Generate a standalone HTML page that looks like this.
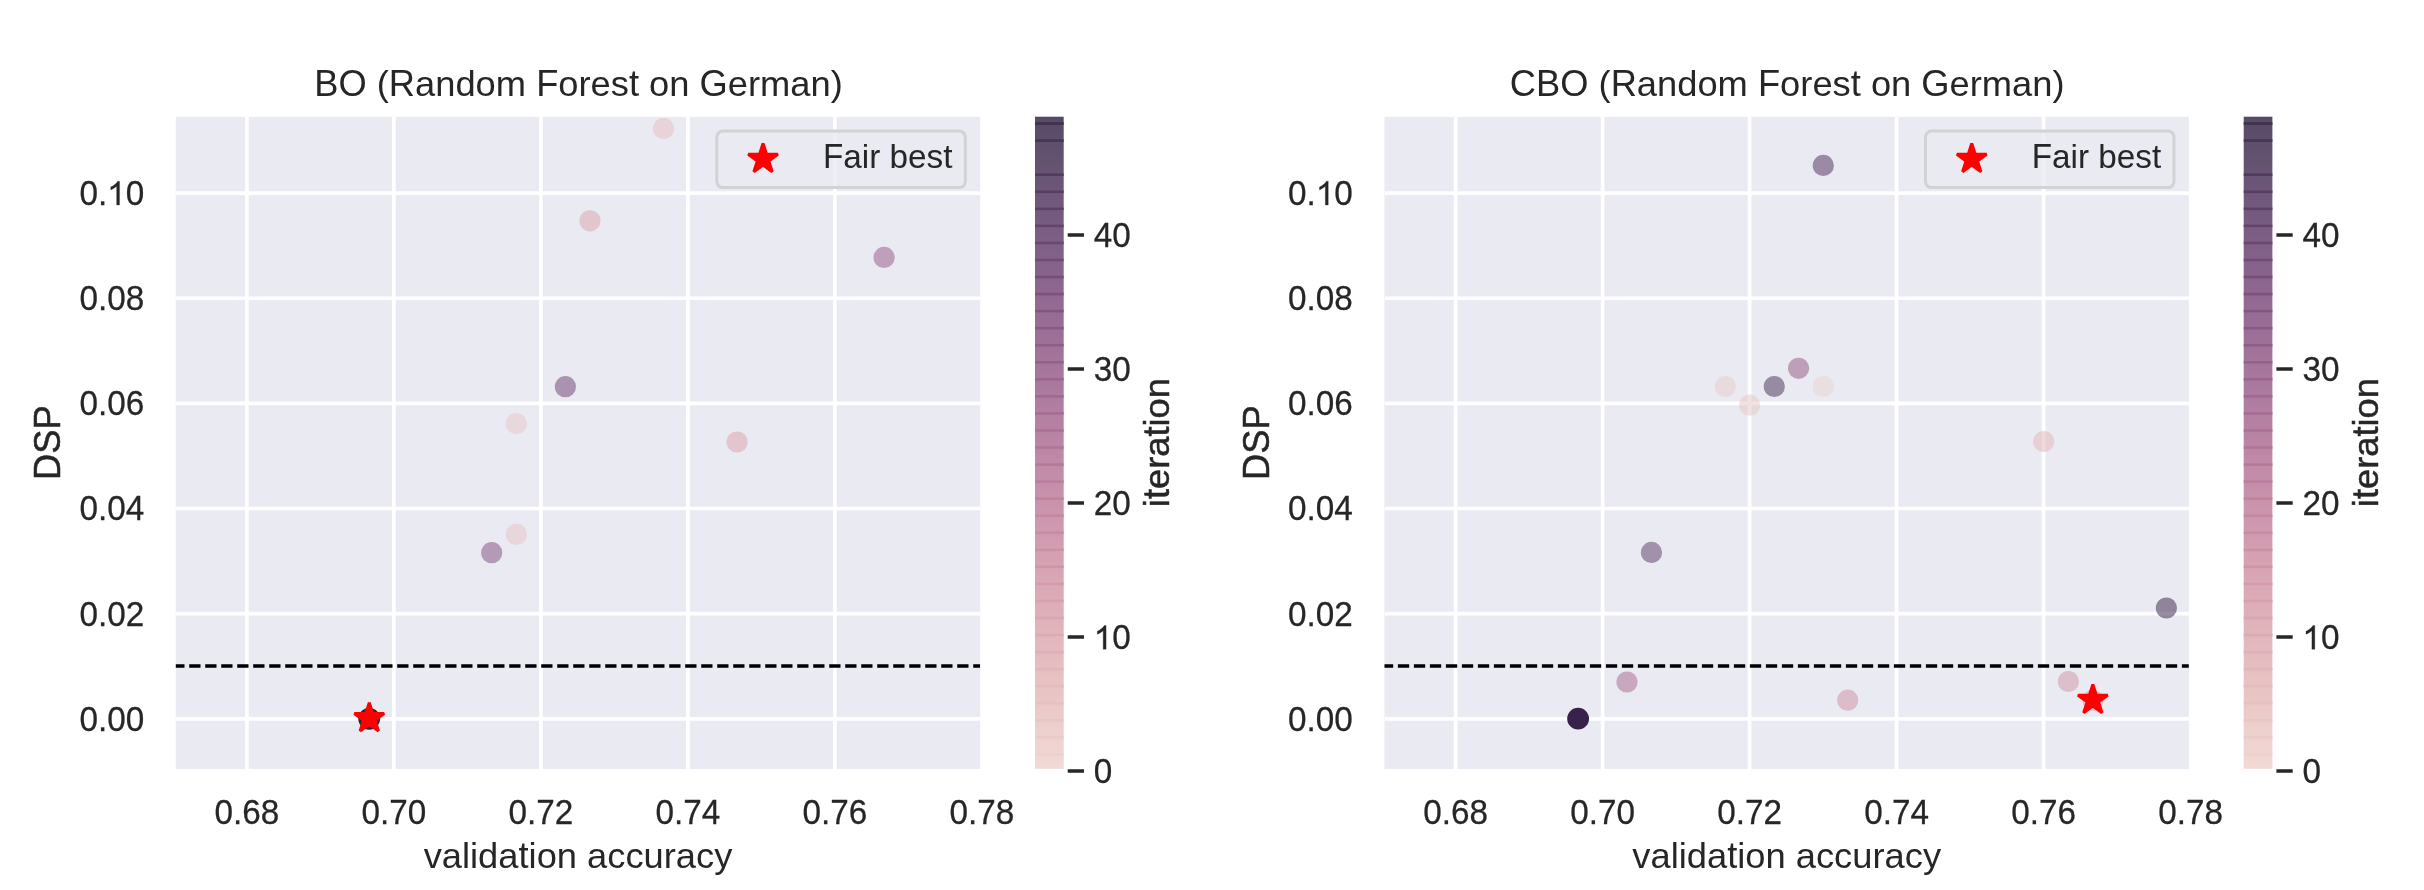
<!DOCTYPE html>
<html><head><meta charset="utf-8"><style>
html,body{margin:0;padding:0;background:#fff;width:2424px;height:890px;overflow:hidden}
svg{display:block;will-change:transform}
text{font-family:"Liberation Sans", sans-serif;fill:#262626;stroke:#262626}
</style></head><body>
<svg width="2424" height="890" viewBox="0 0 2424 890">
<defs><clipPath id="clipa"><rect x="175.80" y="116.85" width="804.40" height="652.15"/></clipPath>
<linearGradient id="cbga" x1="0" y1="0" x2="0" y2="1"><stop offset="0.0000" stop-color="#574b64"/><stop offset="0.0156" stop-color="#594c67"/><stop offset="0.0312" stop-color="#5c4e6a"/><stop offset="0.0469" stop-color="#60506d"/><stop offset="0.0625" stop-color="#62516f"/><stop offset="0.0781" stop-color="#655372"/><stop offset="0.0938" stop-color="#695575"/><stop offset="0.1094" stop-color="#6c5678"/><stop offset="0.1250" stop-color="#70587b"/><stop offset="0.1406" stop-color="#72597d"/><stop offset="0.1562" stop-color="#765b80"/><stop offset="0.1719" stop-color="#795d82"/><stop offset="0.1875" stop-color="#7d5f85"/><stop offset="0.2031" stop-color="#806087"/><stop offset="0.2188" stop-color="#846289"/><stop offset="0.2344" stop-color="#86638b"/><stop offset="0.2500" stop-color="#8a658d"/><stop offset="0.2656" stop-color="#8d678f"/><stop offset="0.2812" stop-color="#916991"/><stop offset="0.2969" stop-color="#946b93"/><stop offset="0.3125" stop-color="#966c94"/><stop offset="0.3281" stop-color="#9a6e96"/><stop offset="0.3438" stop-color="#9d7098"/><stop offset="0.3594" stop-color="#a17399"/><stop offset="0.3750" stop-color="#a4759b"/><stop offset="0.3906" stop-color="#a6769c"/><stop offset="0.4062" stop-color="#a9789d"/><stop offset="0.4219" stop-color="#ac7a9f"/><stop offset="0.4375" stop-color="#af7da0"/><stop offset="0.4531" stop-color="#b27fa2"/><stop offset="0.4688" stop-color="#b581a3"/><stop offset="0.4844" stop-color="#b783a4"/><stop offset="0.5000" stop-color="#ba85a5"/><stop offset="0.5156" stop-color="#bd88a6"/><stop offset="0.5312" stop-color="#c08aa8"/><stop offset="0.5469" stop-color="#c28da9"/><stop offset="0.5625" stop-color="#c48eaa"/><stop offset="0.5781" stop-color="#c791ab"/><stop offset="0.5938" stop-color="#c993ac"/><stop offset="0.6094" stop-color="#cb96ad"/><stop offset="0.6250" stop-color="#ce99af"/><stop offset="0.6406" stop-color="#cf9aaf"/><stop offset="0.6562" stop-color="#d29db1"/><stop offset="0.6719" stop-color="#d4a0b2"/><stop offset="0.6875" stop-color="#d6a3b3"/><stop offset="0.7031" stop-color="#d8a5b5"/><stop offset="0.7188" stop-color="#daa8b6"/><stop offset="0.7344" stop-color="#dbaab7"/><stop offset="0.7500" stop-color="#ddadb8"/><stop offset="0.7656" stop-color="#deb0ba"/><stop offset="0.7812" stop-color="#e0b3bb"/><stop offset="0.7969" stop-color="#e2b6bd"/><stop offset="0.8125" stop-color="#e3b8be"/><stop offset="0.8281" stop-color="#e4bbc0"/><stop offset="0.8438" stop-color="#e6bec1"/><stop offset="0.8594" stop-color="#e7c1c3"/><stop offset="0.8750" stop-color="#e8c4c5"/><stop offset="0.8906" stop-color="#e9c6c6"/><stop offset="0.9062" stop-color="#eac9c8"/><stop offset="0.9219" stop-color="#eccccb"/><stop offset="0.9375" stop-color="#edcfcd"/><stop offset="0.9531" stop-color="#eed2cf"/><stop offset="0.9688" stop-color="#efd4d1"/><stop offset="0.9844" stop-color="#f0d7d3"/><stop offset="1.0000" stop-color="#f1dad6"/></linearGradient>
<clipPath id="clipb"><rect x="1384.50" y="116.85" width="804.40" height="652.15"/></clipPath>
<linearGradient id="cbgb" x1="0" y1="0" x2="0" y2="1"><stop offset="0.0000" stop-color="#574b64"/><stop offset="0.0156" stop-color="#594c67"/><stop offset="0.0312" stop-color="#5c4e6a"/><stop offset="0.0469" stop-color="#60506d"/><stop offset="0.0625" stop-color="#62516f"/><stop offset="0.0781" stop-color="#655372"/><stop offset="0.0938" stop-color="#695575"/><stop offset="0.1094" stop-color="#6c5678"/><stop offset="0.1250" stop-color="#70587b"/><stop offset="0.1406" stop-color="#72597d"/><stop offset="0.1562" stop-color="#765b80"/><stop offset="0.1719" stop-color="#795d82"/><stop offset="0.1875" stop-color="#7d5f85"/><stop offset="0.2031" stop-color="#806087"/><stop offset="0.2188" stop-color="#846289"/><stop offset="0.2344" stop-color="#86638b"/><stop offset="0.2500" stop-color="#8a658d"/><stop offset="0.2656" stop-color="#8d678f"/><stop offset="0.2812" stop-color="#916991"/><stop offset="0.2969" stop-color="#946b93"/><stop offset="0.3125" stop-color="#966c94"/><stop offset="0.3281" stop-color="#9a6e96"/><stop offset="0.3438" stop-color="#9d7098"/><stop offset="0.3594" stop-color="#a17399"/><stop offset="0.3750" stop-color="#a4759b"/><stop offset="0.3906" stop-color="#a6769c"/><stop offset="0.4062" stop-color="#a9789d"/><stop offset="0.4219" stop-color="#ac7a9f"/><stop offset="0.4375" stop-color="#af7da0"/><stop offset="0.4531" stop-color="#b27fa2"/><stop offset="0.4688" stop-color="#b581a3"/><stop offset="0.4844" stop-color="#b783a4"/><stop offset="0.5000" stop-color="#ba85a5"/><stop offset="0.5156" stop-color="#bd88a6"/><stop offset="0.5312" stop-color="#c08aa8"/><stop offset="0.5469" stop-color="#c28da9"/><stop offset="0.5625" stop-color="#c48eaa"/><stop offset="0.5781" stop-color="#c791ab"/><stop offset="0.5938" stop-color="#c993ac"/><stop offset="0.6094" stop-color="#cb96ad"/><stop offset="0.6250" stop-color="#ce99af"/><stop offset="0.6406" stop-color="#cf9aaf"/><stop offset="0.6562" stop-color="#d29db1"/><stop offset="0.6719" stop-color="#d4a0b2"/><stop offset="0.6875" stop-color="#d6a3b3"/><stop offset="0.7031" stop-color="#d8a5b5"/><stop offset="0.7188" stop-color="#daa8b6"/><stop offset="0.7344" stop-color="#dbaab7"/><stop offset="0.7500" stop-color="#ddadb8"/><stop offset="0.7656" stop-color="#deb0ba"/><stop offset="0.7812" stop-color="#e0b3bb"/><stop offset="0.7969" stop-color="#e2b6bd"/><stop offset="0.8125" stop-color="#e3b8be"/><stop offset="0.8281" stop-color="#e4bbc0"/><stop offset="0.8438" stop-color="#e6bec1"/><stop offset="0.8594" stop-color="#e7c1c3"/><stop offset="0.8750" stop-color="#e8c4c5"/><stop offset="0.8906" stop-color="#e9c6c6"/><stop offset="0.9062" stop-color="#eac9c8"/><stop offset="0.9219" stop-color="#eccccb"/><stop offset="0.9375" stop-color="#edcfcd"/><stop offset="0.9531" stop-color="#eed2cf"/><stop offset="0.9688" stop-color="#efd4d1"/><stop offset="0.9844" stop-color="#f0d7d3"/><stop offset="1.0000" stop-color="#f1dad6"/></linearGradient></defs>
<rect x="175.80" y="116.85" width="804.40" height="652.15" fill="#eaeaf2"/>
<g clip-path="url(#clipa)">
<line x1="246.90" y1="116.85" x2="246.90" y2="769.00" stroke="#fff" stroke-width="3.7"/>
<line x1="393.90" y1="116.85" x2="393.90" y2="769.00" stroke="#fff" stroke-width="3.7"/>
<line x1="540.90" y1="116.85" x2="540.90" y2="769.00" stroke="#fff" stroke-width="3.7"/>
<line x1="687.90" y1="116.85" x2="687.90" y2="769.00" stroke="#fff" stroke-width="3.7"/>
<line x1="834.90" y1="116.85" x2="834.90" y2="769.00" stroke="#fff" stroke-width="3.7"/>
<line x1="175.80" y1="718.80" x2="980.20" y2="718.80" stroke="#fff" stroke-width="3.7"/>
<line x1="175.80" y1="613.66" x2="980.20" y2="613.66" stroke="#fff" stroke-width="3.7"/>
<line x1="175.80" y1="508.52" x2="980.20" y2="508.52" stroke="#fff" stroke-width="3.7"/>
<line x1="175.80" y1="403.38" x2="980.20" y2="403.38" stroke="#fff" stroke-width="3.7"/>
<line x1="175.80" y1="298.24" x2="980.20" y2="298.24" stroke="#fff" stroke-width="3.7"/>
<line x1="175.80" y1="193.10" x2="980.20" y2="193.10" stroke="#fff" stroke-width="3.7"/>
<line x1="173.20" y1="666.1" x2="980.20" y2="666.1" stroke="#000" stroke-width="3.5" stroke-dasharray="11.3 4.7"/>
<circle cx="663.50" cy="128.60" r="10.6" fill="#e6bebe" fill-opacity="0.50"/>
<circle cx="590.00" cy="220.80" r="10.6" fill="#daa0a8" fill-opacity="0.50"/>
<circle cx="884.10" cy="257.40" r="10.6" fill="#945484" fill-opacity="0.50"/>
<circle cx="565.40" cy="386.70" r="10.6" fill="#683c6e" fill-opacity="0.50"/>
<circle cx="516.40" cy="423.60" r="10.6" fill="#e6c6c6" fill-opacity="0.50"/>
<circle cx="737.10" cy="442.00" r="10.6" fill="#dca0a8" fill-opacity="0.50"/>
<circle cx="516.40" cy="534.40" r="10.6" fill="#e6c2c2" fill-opacity="0.50"/>
<circle cx="491.70" cy="552.70" r="10.6" fill="#7e4a7c" fill-opacity="0.50"/>
<circle cx="369.20" cy="718.80" r="10.9" fill="#2a2540"/>
<polygon points="369.28,702.76 372.79,713.57 384.16,713.57 374.97,720.26 378.48,731.07 369.28,724.39 360.08,731.07 363.59,720.26 354.40,713.57 365.77,713.57" fill="#ff0000" stroke="#ff0000" stroke-width="3" stroke-linejoin="bevel"/>
</g>
<rect x="716.80" y="131.1" width="248.5" height="56.5" rx="6" ry="6" fill="#eaeaf2" fill-opacity="0.8" stroke="#d2d2d4" stroke-width="3"/>
<polygon points="763.05,143.47 766.56,154.28 777.93,154.28 768.74,160.97 772.25,171.78 763.05,165.10 753.85,171.78 757.36,160.97 748.17,154.28 759.54,154.28" fill="#ff0000" stroke="#ff0000" stroke-width="3" stroke-linejoin="bevel"/>
<text transform="translate(823.00,168.45) translate(0.00,0) scale(1,1.0405)" font-size="33.30" stroke-width="0.00">F</text><text transform="translate(823.00,168.45) translate(20.33,0) scale(1,0.9815)" font-size="33.30" stroke-width="0.00">a</text><text transform="translate(823.00,168.45) translate(38.84,0) scale(1,0.9880)" font-size="33.30" stroke-width="0.00">i</text><text transform="translate(823.00,168.45) translate(46.25,0) scale(1,0.9815)" font-size="33.30" stroke-width="0.00">r</text><text transform="translate(823.00,168.45) translate(66.59,0) scale(1,0.9880)" font-size="33.30" stroke-width="0.00">b</text><text transform="translate(823.00,168.45) translate(85.11,0) scale(1,0.9815)" font-size="33.30" stroke-width="0.00">e</text><text transform="translate(823.00,168.45) translate(103.62,0) scale(1,0.9815)" font-size="33.30" stroke-width="0.00">s</text><text transform="translate(823.00,168.45) translate(120.27,0) scale(1,1.0000)" font-size="33.30" stroke-width="0.00">t</text>
<text transform="translate(578.50,96.40) translate(-264.26,0) scale(1,1.0405)" font-size="36.30" stroke-width="0.00">B</text><text transform="translate(578.50,96.40) translate(-240.05,0) scale(1,1.0405)" font-size="36.30" stroke-width="0.00">O</text><text transform="translate(578.50,96.40) translate(-201.74,0) scale(1,0.9900)" font-size="36.30" stroke-width="0.00">(</text><text transform="translate(578.50,96.40) translate(-189.65,0) scale(1,1.0405)" font-size="36.30" stroke-width="0.00">R</text><text transform="translate(578.50,96.40) translate(-163.45,0) scale(1,0.9815)" font-size="36.30" stroke-width="0.00">a</text><text transform="translate(578.50,96.40) translate(-143.26,0) scale(1,0.9815)" font-size="36.30" stroke-width="0.00">n</text><text transform="translate(578.50,96.40) translate(-123.07,0) scale(1,0.9880)" font-size="36.30" stroke-width="0.00">d</text><text transform="translate(578.50,96.40) translate(-102.88,0) scale(1,0.9815)" font-size="36.30" stroke-width="0.00">o</text><text transform="translate(578.50,96.40) translate(-82.70,0) scale(1,0.9815)" font-size="36.30" stroke-width="0.00">m</text><text transform="translate(578.50,96.40) translate(-42.37,0) scale(1,1.0405)" font-size="36.30" stroke-width="0.00">F</text><text transform="translate(578.50,96.40) translate(-20.20,0) scale(1,0.9815)" font-size="36.30" stroke-width="0.00">o</text><text transform="translate(578.50,96.40) translate(-0.01,0) scale(1,0.9815)" font-size="36.30" stroke-width="0.00">r</text><text transform="translate(578.50,96.40) translate(12.07,0) scale(1,0.9815)" font-size="36.30" stroke-width="0.00">e</text><text transform="translate(578.50,96.40) translate(32.26,0) scale(1,0.9815)" font-size="36.30" stroke-width="0.00">s</text><text transform="translate(578.50,96.40) translate(50.41,0) scale(1,1.0000)" font-size="36.30" stroke-width="0.00">t</text><text transform="translate(578.50,96.40) translate(70.57,0) scale(1,0.9815)" font-size="36.30" stroke-width="0.00">o</text><text transform="translate(578.50,96.40) translate(90.76,0) scale(1,0.9815)" font-size="36.30" stroke-width="0.00">n</text><text transform="translate(578.50,96.40) translate(121.04,0) scale(1,1.0405)" font-size="36.30" stroke-width="0.00">G</text><text transform="translate(578.50,96.40) translate(149.27,0) scale(1,0.9815)" font-size="36.30" stroke-width="0.00">e</text><text transform="translate(578.50,96.40) translate(169.46,0) scale(1,0.9815)" font-size="36.30" stroke-width="0.00">r</text><text transform="translate(578.50,96.40) translate(181.54,0) scale(1,0.9815)" font-size="36.30" stroke-width="0.00">m</text><text transform="translate(578.50,96.40) translate(211.77,0) scale(1,0.9815)" font-size="36.30" stroke-width="0.00">a</text><text transform="translate(578.50,96.40) translate(231.96,0) scale(1,0.9815)" font-size="36.30" stroke-width="0.00">n</text><text transform="translate(578.50,96.40) translate(252.15,0) scale(1,0.9900)" font-size="36.30" stroke-width="0.00">)</text>
<text transform="translate(246.90,823.80) translate(-32.41,0) scale(1,1.0405)" font-size="33.30" stroke-width="0.25">0</text><text transform="translate(246.90,823.80) translate(-13.89,0) scale(1,1.0000)" font-size="33.30" stroke-width="0.25">.</text><text transform="translate(246.90,823.80) translate(-4.64,0) scale(1,1.0405)" font-size="33.30" stroke-width="0.25">6</text><text transform="translate(246.90,823.80) translate(13.88,0) scale(1,1.0405)" font-size="33.30" stroke-width="0.25">8</text>
<text transform="translate(393.90,823.80) translate(-32.41,0) scale(1,1.0405)" font-size="33.30" stroke-width="0.25">0</text><text transform="translate(393.90,823.80) translate(-13.89,0) scale(1,1.0000)" font-size="33.30" stroke-width="0.25">.</text><text transform="translate(393.90,823.80) translate(-4.64,0) scale(1,1.0405)" font-size="33.30" stroke-width="0.25">7</text><text transform="translate(393.90,823.80) translate(13.88,0) scale(1,1.0405)" font-size="33.30" stroke-width="0.25">0</text>
<text transform="translate(540.90,823.80) translate(-32.41,0) scale(1,1.0405)" font-size="33.30" stroke-width="0.25">0</text><text transform="translate(540.90,823.80) translate(-13.89,0) scale(1,1.0000)" font-size="33.30" stroke-width="0.25">.</text><text transform="translate(540.90,823.80) translate(-4.64,0) scale(1,1.0405)" font-size="33.30" stroke-width="0.25">7</text><text transform="translate(540.90,823.80) translate(13.88,0) scale(1,1.0405)" font-size="33.30" stroke-width="0.25">2</text>
<text transform="translate(687.90,823.80) translate(-32.41,0) scale(1,1.0405)" font-size="33.30" stroke-width="0.25">0</text><text transform="translate(687.90,823.80) translate(-13.89,0) scale(1,1.0000)" font-size="33.30" stroke-width="0.25">.</text><text transform="translate(687.90,823.80) translate(-4.64,0) scale(1,1.0405)" font-size="33.30" stroke-width="0.25">7</text><text transform="translate(687.90,823.80) translate(13.88,0) scale(1,1.0405)" font-size="33.30" stroke-width="0.25">4</text>
<text transform="translate(834.90,823.80) translate(-32.41,0) scale(1,1.0405)" font-size="33.30" stroke-width="0.25">0</text><text transform="translate(834.90,823.80) translate(-13.89,0) scale(1,1.0000)" font-size="33.30" stroke-width="0.25">.</text><text transform="translate(834.90,823.80) translate(-4.64,0) scale(1,1.0405)" font-size="33.30" stroke-width="0.25">7</text><text transform="translate(834.90,823.80) translate(13.88,0) scale(1,1.0405)" font-size="33.30" stroke-width="0.25">6</text>
<text transform="translate(981.90,823.80) translate(-32.41,0) scale(1,1.0405)" font-size="33.30" stroke-width="0.25">0</text><text transform="translate(981.90,823.80) translate(-13.89,0) scale(1,1.0000)" font-size="33.30" stroke-width="0.25">.</text><text transform="translate(981.90,823.80) translate(-4.64,0) scale(1,1.0405)" font-size="33.30" stroke-width="0.25">7</text><text transform="translate(981.90,823.80) translate(13.88,0) scale(1,1.0405)" font-size="33.30" stroke-width="0.25">8</text>
<text transform="translate(144.20,730.70) translate(-64.81,0) scale(1,1.0405)" font-size="33.30" stroke-width="0.25">0</text><text transform="translate(144.20,730.70) translate(-46.30,0) scale(1,1.0000)" font-size="33.30" stroke-width="0.25">.</text><text transform="translate(144.20,730.70) translate(-37.05,0) scale(1,1.0405)" font-size="33.30" stroke-width="0.25">0</text><text transform="translate(144.20,730.70) translate(-18.53,0) scale(1,1.0405)" font-size="33.30" stroke-width="0.25">0</text>
<text transform="translate(144.20,625.56) translate(-64.81,0) scale(1,1.0405)" font-size="33.30" stroke-width="0.25">0</text><text transform="translate(144.20,625.56) translate(-46.30,0) scale(1,1.0000)" font-size="33.30" stroke-width="0.25">.</text><text transform="translate(144.20,625.56) translate(-37.05,0) scale(1,1.0405)" font-size="33.30" stroke-width="0.25">0</text><text transform="translate(144.20,625.56) translate(-18.53,0) scale(1,1.0405)" font-size="33.30" stroke-width="0.25">2</text>
<text transform="translate(144.20,520.42) translate(-64.81,0) scale(1,1.0405)" font-size="33.30" stroke-width="0.25">0</text><text transform="translate(144.20,520.42) translate(-46.30,0) scale(1,1.0000)" font-size="33.30" stroke-width="0.25">.</text><text transform="translate(144.20,520.42) translate(-37.05,0) scale(1,1.0405)" font-size="33.30" stroke-width="0.25">0</text><text transform="translate(144.20,520.42) translate(-18.53,0) scale(1,1.0405)" font-size="33.30" stroke-width="0.25">4</text>
<text transform="translate(144.20,415.28) translate(-64.81,0) scale(1,1.0405)" font-size="33.30" stroke-width="0.25">0</text><text transform="translate(144.20,415.28) translate(-46.30,0) scale(1,1.0000)" font-size="33.30" stroke-width="0.25">.</text><text transform="translate(144.20,415.28) translate(-37.05,0) scale(1,1.0405)" font-size="33.30" stroke-width="0.25">0</text><text transform="translate(144.20,415.28) translate(-18.53,0) scale(1,1.0405)" font-size="33.30" stroke-width="0.25">6</text>
<text transform="translate(144.20,310.14) translate(-64.81,0) scale(1,1.0405)" font-size="33.30" stroke-width="0.25">0</text><text transform="translate(144.20,310.14) translate(-46.30,0) scale(1,1.0000)" font-size="33.30" stroke-width="0.25">.</text><text transform="translate(144.20,310.14) translate(-37.05,0) scale(1,1.0405)" font-size="33.30" stroke-width="0.25">0</text><text transform="translate(144.20,310.14) translate(-18.53,0) scale(1,1.0405)" font-size="33.30" stroke-width="0.25">8</text>
<text transform="translate(144.20,205.00) translate(-64.81,0) scale(1,1.0405)" font-size="33.30" stroke-width="0.25">0</text><text transform="translate(144.20,205.00) translate(-46.30,0) scale(1,1.0000)" font-size="33.30" stroke-width="0.25">.</text><path transform="translate(144.20,205.00) translate(-37.05,0) scale(0.01626,-0.01626)" d="M763 0L583 0L583 1147Q518 1085 412.5 1023Q307 961 221 929L221 1103Q376 1176 488 1276Q600 1376 650 1466L763 1466Z" fill="#262626" stroke="#262626" stroke-width="15.4"/><text transform="translate(144.20,205.00) translate(-18.53,0) scale(1,1.0405)" font-size="33.30" stroke-width="0.25">0</text>
<text transform="translate(578.00,868.30) translate(-154.34,0) scale(1,0.9815)" font-size="36.30" stroke-width="0.00">v</text><text transform="translate(578.00,868.30) translate(-136.20,0) scale(1,0.9815)" font-size="36.30" stroke-width="0.00">a</text><text transform="translate(578.00,868.30) translate(-116.02,0) scale(1,0.9880)" font-size="36.30" stroke-width="0.00">l</text><text transform="translate(578.00,868.30) translate(-107.95,0) scale(1,0.9880)" font-size="36.30" stroke-width="0.00">i</text><text transform="translate(578.00,868.30) translate(-99.89,0) scale(1,0.9880)" font-size="36.30" stroke-width="0.00">d</text><text transform="translate(578.00,868.30) translate(-79.70,0) scale(1,0.9815)" font-size="36.30" stroke-width="0.00">a</text><text transform="translate(578.00,868.30) translate(-59.52,0) scale(1,1.0000)" font-size="36.30" stroke-width="0.00">t</text><text transform="translate(578.00,868.30) translate(-49.44,0) scale(1,0.9880)" font-size="36.30" stroke-width="0.00">i</text><text transform="translate(578.00,868.30) translate(-41.36,0) scale(1,0.9815)" font-size="36.30" stroke-width="0.00">o</text><text transform="translate(578.00,868.30) translate(-21.19,0) scale(1,0.9815)" font-size="36.30" stroke-width="0.00">n</text><text transform="translate(578.00,868.30) translate(9.09,0) scale(1,0.9815)" font-size="36.30" stroke-width="0.00">a</text><text transform="translate(578.00,868.30) translate(29.28,0) scale(1,0.9815)" font-size="36.30" stroke-width="0.00">c</text><text transform="translate(578.00,868.30) translate(47.42,0) scale(1,0.9815)" font-size="36.30" stroke-width="0.00">c</text><text transform="translate(578.00,868.30) translate(65.58,0) scale(1,0.9815)" font-size="36.30" stroke-width="0.00">u</text><text transform="translate(578.00,868.30) translate(85.77,0) scale(1,0.9815)" font-size="36.30" stroke-width="0.00">r</text><text transform="translate(578.00,868.30) translate(97.84,0) scale(1,0.9815)" font-size="36.30" stroke-width="0.00">a</text><text transform="translate(578.00,868.30) translate(118.03,0) scale(1,0.9815)" font-size="36.30" stroke-width="0.00">c</text><text transform="translate(578.00,868.30) translate(136.19,0) scale(1,0.9815)" font-size="36.30" stroke-width="0.00">y</text>
<text transform="translate(59.90,442.60) rotate(-90) translate(-37.32,0) scale(1,1.0405)" font-size="36.30" stroke-width="0.50">D</text><text transform="translate(59.90,442.60) rotate(-90) translate(-11.12,0) scale(1,1.0405)" font-size="36.30" stroke-width="0.50">S</text><text transform="translate(59.90,442.60) rotate(-90) translate(13.10,0) scale(1,1.0405)" font-size="36.30" stroke-width="0.50">P</text>
<rect x="1035.00" y="116.70" width="28.70" height="652.10" fill="url(#cbga)"/>
<rect x="1035.00" y="753.10" width="28.70" height="2.6" fill="#eed1cc"/>
<rect x="1035.00" y="736.05" width="28.70" height="2.6" fill="#ebcbc8"/>
<rect x="1035.00" y="719.00" width="28.70" height="2.6" fill="#e9c6c3"/>
<rect x="1035.00" y="701.95" width="28.70" height="2.6" fill="#e7c1c0"/>
<rect x="1035.00" y="684.90" width="28.70" height="2.6" fill="#e5bbbc"/>
<rect x="1035.00" y="667.85" width="28.70" height="2.6" fill="#e2b5b9"/>
<rect x="1035.00" y="650.80" width="28.70" height="2.6" fill="#e0b0b5"/>
<rect x="1035.00" y="633.75" width="28.70" height="2.6" fill="#ddabb3"/>
<rect x="1035.00" y="616.70" width="28.70" height="2.6" fill="#daa5b0"/>
<rect x="1035.00" y="599.65" width="28.70" height="2.6" fill="#d7a0ad"/>
<rect x="1035.00" y="582.60" width="28.70" height="2.6" fill="#d49bab"/>
<rect x="1035.00" y="565.55" width="28.70" height="2.6" fill="#d096a8"/>
<rect x="1035.00" y="548.50" width="28.70" height="2.6" fill="#cc91a6"/>
<rect x="1035.00" y="531.45" width="28.70" height="2.6" fill="#c88ba3"/>
<rect x="1035.00" y="514.40" width="28.70" height="2.6" fill="#c587a2"/>
<rect x="1035.00" y="497.35" width="28.70" height="2.6" fill="#c0829f"/>
<rect x="1035.00" y="480.30" width="28.70" height="2.6" fill="#bb7d9d"/>
<rect x="1035.00" y="463.25" width="28.70" height="2.6" fill="#b6789b"/>
<rect x="1035.00" y="446.20" width="28.70" height="2.6" fill="#b27599"/>
<rect x="1035.00" y="429.15" width="28.70" height="2.6" fill="#ad7096"/>
<rect x="1035.00" y="412.10" width="28.70" height="2.6" fill="#a76c94"/>
<rect x="1035.00" y="395.05" width="28.70" height="2.6" fill="#a16791"/>
<rect x="1035.00" y="378.00" width="28.70" height="2.6" fill="#9c648f"/>
<rect x="1035.00" y="360.95" width="28.70" height="2.6" fill="#96608c"/>
<rect x="1035.00" y="343.90" width="28.70" height="2.6" fill="#905c89"/>
<rect x="1035.00" y="326.85" width="28.70" height="2.6" fill="#8b5986"/>
<rect x="1035.00" y="309.80" width="28.70" height="2.6" fill="#845583"/>
<rect x="1035.00" y="292.75" width="28.70" height="2.6" fill="#7d517f"/>
<rect x="1035.00" y="275.70" width="28.70" height="2.6" fill="#774e7b"/>
<rect x="1035.00" y="258.65" width="28.70" height="2.6" fill="#714b78"/>
<rect x="1035.00" y="241.60" width="28.70" height="2.6" fill="#6b4773"/>
<rect x="1035.00" y="224.55" width="28.70" height="2.6" fill="#64446e"/>
<rect x="1035.00" y="207.50" width="28.70" height="2.6" fill="#5e416a"/>
<rect x="1035.00" y="190.45" width="28.70" height="2.6" fill="#583e65"/>
<rect x="1035.00" y="173.40" width="28.70" height="2.6" fill="#513a60"/>
<rect x="1035.00" y="139.30" width="28.70" height="2.6" fill="#453455"/>
<rect x="1035.00" y="122.25" width="28.70" height="2.6" fill="#3f314f"/>
<line x1="1067.70" y1="771.00" x2="1084.00" y2="771.00" stroke="#262626" stroke-width="3.5"/>
<text transform="translate(1093.70,783.30) translate(0.00,0) scale(1,1.0405)" font-size="33.30" stroke-width="0.25">0</text>
<line x1="1067.70" y1="637.00" x2="1084.00" y2="637.00" stroke="#262626" stroke-width="3.5"/>
<path transform="translate(1093.70,649.30) translate(0.00,0) scale(0.01626,-0.01626)" d="M763 0L583 0L583 1147Q518 1085 412.5 1023Q307 961 221 929L221 1103Q376 1176 488 1276Q600 1376 650 1466L763 1466Z" fill="#262626" stroke="#262626" stroke-width="15.4"/><text transform="translate(1093.70,649.30) translate(18.52,0) scale(1,1.0405)" font-size="33.30" stroke-width="0.25">0</text>
<line x1="1067.70" y1="503.00" x2="1084.00" y2="503.00" stroke="#262626" stroke-width="3.5"/>
<text transform="translate(1093.70,515.30) translate(0.00,0) scale(1,1.0405)" font-size="33.30" stroke-width="0.25">2</text><text transform="translate(1093.70,515.30) translate(18.52,0) scale(1,1.0405)" font-size="33.30" stroke-width="0.25">0</text>
<line x1="1067.70" y1="369.00" x2="1084.00" y2="369.00" stroke="#262626" stroke-width="3.5"/>
<text transform="translate(1093.70,381.30) translate(0.00,0) scale(1,1.0405)" font-size="33.30" stroke-width="0.25">3</text><text transform="translate(1093.70,381.30) translate(18.52,0) scale(1,1.0405)" font-size="33.30" stroke-width="0.25">0</text>
<line x1="1067.70" y1="235.00" x2="1084.00" y2="235.00" stroke="#262626" stroke-width="3.5"/>
<text transform="translate(1093.70,247.30) translate(0.00,0) scale(1,1.0405)" font-size="33.30" stroke-width="0.25">4</text><text transform="translate(1093.70,247.30) translate(18.52,0) scale(1,1.0405)" font-size="33.30" stroke-width="0.25">0</text>
<text transform="translate(1169.20,442.60) rotate(-90) translate(-64.57,0) scale(1,0.9880)" font-size="36.30" stroke-width="0.50">i</text><text transform="translate(1169.20,442.60) rotate(-90) translate(-56.51,0) scale(1,1.0000)" font-size="36.30" stroke-width="0.50">t</text><text transform="translate(1169.20,442.60) rotate(-90) translate(-46.43,0) scale(1,0.9815)" font-size="36.30" stroke-width="0.50">e</text><text transform="translate(1169.20,442.60) rotate(-90) translate(-26.24,0) scale(1,0.9815)" font-size="36.30" stroke-width="0.50">r</text><text transform="translate(1169.20,442.60) rotate(-90) translate(-14.15,0) scale(1,0.9815)" font-size="36.30" stroke-width="0.50">a</text><text transform="translate(1169.20,442.60) rotate(-90) translate(6.02,0) scale(1,1.0000)" font-size="36.30" stroke-width="0.50">t</text><text transform="translate(1169.20,442.60) rotate(-90) translate(16.12,0) scale(1,0.9880)" font-size="36.30" stroke-width="0.50">i</text><text transform="translate(1169.20,442.60) rotate(-90) translate(24.18,0) scale(1,0.9815)" font-size="36.30" stroke-width="0.50">o</text><text transform="translate(1169.20,442.60) rotate(-90) translate(44.37,0) scale(1,0.9815)" font-size="36.30" stroke-width="0.50">n</text>
<rect x="1384.50" y="116.85" width="804.40" height="652.15" fill="#eaeaf2"/>
<g clip-path="url(#clipb)">
<line x1="1455.60" y1="116.85" x2="1455.60" y2="769.00" stroke="#fff" stroke-width="3.7"/>
<line x1="1602.60" y1="116.85" x2="1602.60" y2="769.00" stroke="#fff" stroke-width="3.7"/>
<line x1="1749.60" y1="116.85" x2="1749.60" y2="769.00" stroke="#fff" stroke-width="3.7"/>
<line x1="1896.60" y1="116.85" x2="1896.60" y2="769.00" stroke="#fff" stroke-width="3.7"/>
<line x1="2043.60" y1="116.85" x2="2043.60" y2="769.00" stroke="#fff" stroke-width="3.7"/>
<line x1="1384.50" y1="718.80" x2="2188.90" y2="718.80" stroke="#fff" stroke-width="3.7"/>
<line x1="1384.50" y1="613.66" x2="2188.90" y2="613.66" stroke="#fff" stroke-width="3.7"/>
<line x1="1384.50" y1="508.52" x2="2188.90" y2="508.52" stroke="#fff" stroke-width="3.7"/>
<line x1="1384.50" y1="403.38" x2="2188.90" y2="403.38" stroke="#fff" stroke-width="3.7"/>
<line x1="1384.50" y1="298.24" x2="2188.90" y2="298.24" stroke="#fff" stroke-width="3.7"/>
<line x1="1384.50" y1="193.10" x2="2188.90" y2="193.10" stroke="#fff" stroke-width="3.7"/>
<line x1="1381.90" y1="666.1" x2="2188.90" y2="666.1" stroke="#000" stroke-width="3.5" stroke-dasharray="11.3 4.7"/>
<circle cx="1823.30" cy="165.40" r="10.6" fill="#4a2a5a" fill-opacity="0.50"/>
<circle cx="1798.60" cy="368.30" r="10.6" fill="#905482" fill-opacity="0.50"/>
<circle cx="1725.30" cy="386.50" r="10.6" fill="#e8cac8" fill-opacity="0.50"/>
<circle cx="1774.30" cy="386.50" r="10.6" fill="#442a54" fill-opacity="0.50"/>
<circle cx="1823.40" cy="386.50" r="10.6" fill="#ead4ce" fill-opacity="0.50"/>
<circle cx="1749.60" cy="405.20" r="10.6" fill="#e6c6c6" fill-opacity="0.50"/>
<circle cx="2043.70" cy="441.60" r="10.6" fill="#e4b4b6" fill-opacity="0.50"/>
<circle cx="1651.50" cy="552.40" r="10.6" fill="#5a3862" fill-opacity="0.50"/>
<circle cx="2166.40" cy="608.00" r="10.6" fill="#341e40" fill-opacity="0.50"/>
<circle cx="1627.00" cy="682.00" r="10.6" fill="#a8648c" fill-opacity="0.50"/>
<circle cx="2068.40" cy="681.50" r="10.6" fill="#ce94a4" fill-opacity="0.50"/>
<circle cx="1847.75" cy="700.20" r="10.6" fill="#ce8e9e" fill-opacity="0.50"/>
<circle cx="1578.10" cy="718.65" r="10.9" fill="#38214a"/>
<circle cx="2093.00" cy="700.30" r="10.6" fill="#c69ab2" fill-opacity="0.50"/>
<polygon points="2092.85,684.40 2096.36,695.21 2107.73,695.21 2098.54,701.90 2102.05,712.71 2092.85,706.03 2083.65,712.71 2087.16,701.90 2077.97,695.21 2089.34,695.21" fill="#ff0000" stroke="#ff0000" stroke-width="3" stroke-linejoin="bevel"/>
</g>
<rect x="1925.50" y="131.1" width="248.5" height="56.5" rx="6" ry="6" fill="#eaeaf2" fill-opacity="0.8" stroke="#d2d2d4" stroke-width="3"/>
<polygon points="1971.75,143.47 1975.26,154.28 1986.63,154.28 1977.44,160.97 1980.95,171.78 1971.75,165.10 1962.55,171.78 1966.06,160.97 1956.87,154.28 1968.24,154.28" fill="#ff0000" stroke="#ff0000" stroke-width="3" stroke-linejoin="bevel"/>
<text transform="translate(2031.70,168.45) translate(0.00,0) scale(1,1.0405)" font-size="33.30" stroke-width="0.00">F</text><text transform="translate(2031.70,168.45) translate(20.33,0) scale(1,0.9815)" font-size="33.30" stroke-width="0.00">a</text><text transform="translate(2031.70,168.45) translate(38.84,0) scale(1,0.9880)" font-size="33.30" stroke-width="0.00">i</text><text transform="translate(2031.70,168.45) translate(46.25,0) scale(1,0.9815)" font-size="33.30" stroke-width="0.00">r</text><text transform="translate(2031.70,168.45) translate(66.59,0) scale(1,0.9880)" font-size="33.30" stroke-width="0.00">b</text><text transform="translate(2031.70,168.45) translate(85.11,0) scale(1,0.9815)" font-size="33.30" stroke-width="0.00">e</text><text transform="translate(2031.70,168.45) translate(103.62,0) scale(1,0.9815)" font-size="33.30" stroke-width="0.00">s</text><text transform="translate(2031.70,168.45) translate(120.27,0) scale(1,1.0000)" font-size="33.30" stroke-width="0.00">t</text>
<text transform="translate(1787.20,96.40) translate(-277.36,0) scale(1,1.0405)" font-size="36.30" stroke-width="0.00">C</text><text transform="translate(1787.20,96.40) translate(-251.16,0) scale(1,1.0405)" font-size="36.30" stroke-width="0.00">B</text><text transform="translate(1787.20,96.40) translate(-226.94,0) scale(1,1.0405)" font-size="36.30" stroke-width="0.00">O</text><text transform="translate(1787.20,96.40) translate(-188.62,0) scale(1,0.9900)" font-size="36.30" stroke-width="0.00">(</text><text transform="translate(1787.20,96.40) translate(-176.55,0) scale(1,1.0405)" font-size="36.30" stroke-width="0.00">R</text><text transform="translate(1787.20,96.40) translate(-150.33,0) scale(1,0.9815)" font-size="36.30" stroke-width="0.00">a</text><text transform="translate(1787.20,96.40) translate(-130.14,0) scale(1,0.9815)" font-size="36.30" stroke-width="0.00">n</text><text transform="translate(1787.20,96.40) translate(-109.95,0) scale(1,0.9880)" font-size="36.30" stroke-width="0.00">d</text><text transform="translate(1787.20,96.40) translate(-89.77,0) scale(1,0.9815)" font-size="36.30" stroke-width="0.00">o</text><text transform="translate(1787.20,96.40) translate(-69.58,0) scale(1,0.9815)" font-size="36.30" stroke-width="0.00">m</text><text transform="translate(1787.20,96.40) translate(-29.27,0) scale(1,1.0405)" font-size="36.30" stroke-width="0.00">F</text><text transform="translate(1787.20,96.40) translate(-7.09,0) scale(1,0.9815)" font-size="36.30" stroke-width="0.00">o</text><text transform="translate(1787.20,96.40) translate(13.09,0) scale(1,0.9815)" font-size="36.30" stroke-width="0.00">r</text><text transform="translate(1787.20,96.40) translate(25.19,0) scale(1,0.9815)" font-size="36.30" stroke-width="0.00">e</text><text transform="translate(1787.20,96.40) translate(45.38,0) scale(1,0.9815)" font-size="36.30" stroke-width="0.00">s</text><text transform="translate(1787.20,96.40) translate(63.52,0) scale(1,1.0000)" font-size="36.30" stroke-width="0.00">t</text><text transform="translate(1787.20,96.40) translate(83.69,0) scale(1,0.9815)" font-size="36.30" stroke-width="0.00">o</text><text transform="translate(1787.20,96.40) translate(103.88,0) scale(1,0.9815)" font-size="36.30" stroke-width="0.00">n</text><text transform="translate(1787.20,96.40) translate(134.14,0) scale(1,1.0405)" font-size="36.30" stroke-width="0.00">G</text><text transform="translate(1787.20,96.40) translate(162.38,0) scale(1,0.9815)" font-size="36.30" stroke-width="0.00">e</text><text transform="translate(1787.20,96.40) translate(182.56,0) scale(1,0.9815)" font-size="36.30" stroke-width="0.00">r</text><text transform="translate(1787.20,96.40) translate(194.66,0) scale(1,0.9815)" font-size="36.30" stroke-width="0.00">m</text><text transform="translate(1787.20,96.40) translate(224.89,0) scale(1,0.9815)" font-size="36.30" stroke-width="0.00">a</text><text transform="translate(1787.20,96.40) translate(245.08,0) scale(1,0.9815)" font-size="36.30" stroke-width="0.00">n</text><text transform="translate(1787.20,96.40) translate(265.27,0) scale(1,0.9900)" font-size="36.30" stroke-width="0.00">)</text>
<text transform="translate(1455.60,823.80) translate(-32.41,0) scale(1,1.0405)" font-size="33.30" stroke-width="0.25">0</text><text transform="translate(1455.60,823.80) translate(-13.89,0) scale(1,1.0000)" font-size="33.30" stroke-width="0.25">.</text><text transform="translate(1455.60,823.80) translate(-4.64,0) scale(1,1.0405)" font-size="33.30" stroke-width="0.25">6</text><text transform="translate(1455.60,823.80) translate(13.88,0) scale(1,1.0405)" font-size="33.30" stroke-width="0.25">8</text>
<text transform="translate(1602.60,823.80) translate(-32.41,0) scale(1,1.0405)" font-size="33.30" stroke-width="0.25">0</text><text transform="translate(1602.60,823.80) translate(-13.89,0) scale(1,1.0000)" font-size="33.30" stroke-width="0.25">.</text><text transform="translate(1602.60,823.80) translate(-4.64,0) scale(1,1.0405)" font-size="33.30" stroke-width="0.25">7</text><text transform="translate(1602.60,823.80) translate(13.88,0) scale(1,1.0405)" font-size="33.30" stroke-width="0.25">0</text>
<text transform="translate(1749.60,823.80) translate(-32.41,0) scale(1,1.0405)" font-size="33.30" stroke-width="0.25">0</text><text transform="translate(1749.60,823.80) translate(-13.89,0) scale(1,1.0000)" font-size="33.30" stroke-width="0.25">.</text><text transform="translate(1749.60,823.80) translate(-4.64,0) scale(1,1.0405)" font-size="33.30" stroke-width="0.25">7</text><text transform="translate(1749.60,823.80) translate(13.88,0) scale(1,1.0405)" font-size="33.30" stroke-width="0.25">2</text>
<text transform="translate(1896.60,823.80) translate(-32.41,0) scale(1,1.0405)" font-size="33.30" stroke-width="0.25">0</text><text transform="translate(1896.60,823.80) translate(-13.89,0) scale(1,1.0000)" font-size="33.30" stroke-width="0.25">.</text><text transform="translate(1896.60,823.80) translate(-4.64,0) scale(1,1.0405)" font-size="33.30" stroke-width="0.25">7</text><text transform="translate(1896.60,823.80) translate(13.88,0) scale(1,1.0405)" font-size="33.30" stroke-width="0.25">4</text>
<text transform="translate(2043.60,823.80) translate(-32.41,0) scale(1,1.0405)" font-size="33.30" stroke-width="0.25">0</text><text transform="translate(2043.60,823.80) translate(-13.89,0) scale(1,1.0000)" font-size="33.30" stroke-width="0.25">.</text><text transform="translate(2043.60,823.80) translate(-4.64,0) scale(1,1.0405)" font-size="33.30" stroke-width="0.25">7</text><text transform="translate(2043.60,823.80) translate(13.88,0) scale(1,1.0405)" font-size="33.30" stroke-width="0.25">6</text>
<text transform="translate(2190.60,823.80) translate(-32.41,0) scale(1,1.0405)" font-size="33.30" stroke-width="0.25">0</text><text transform="translate(2190.60,823.80) translate(-13.89,0) scale(1,1.0000)" font-size="33.30" stroke-width="0.25">.</text><text transform="translate(2190.60,823.80) translate(-4.64,0) scale(1,1.0405)" font-size="33.30" stroke-width="0.25">7</text><text transform="translate(2190.60,823.80) translate(13.88,0) scale(1,1.0405)" font-size="33.30" stroke-width="0.25">8</text>
<text transform="translate(1352.90,730.70) translate(-64.81,0) scale(1,1.0405)" font-size="33.30" stroke-width="0.25">0</text><text transform="translate(1352.90,730.70) translate(-46.30,0) scale(1,1.0000)" font-size="33.30" stroke-width="0.25">.</text><text transform="translate(1352.90,730.70) translate(-37.05,0) scale(1,1.0405)" font-size="33.30" stroke-width="0.25">0</text><text transform="translate(1352.90,730.70) translate(-18.53,0) scale(1,1.0405)" font-size="33.30" stroke-width="0.25">0</text>
<text transform="translate(1352.90,625.56) translate(-64.81,0) scale(1,1.0405)" font-size="33.30" stroke-width="0.25">0</text><text transform="translate(1352.90,625.56) translate(-46.30,0) scale(1,1.0000)" font-size="33.30" stroke-width="0.25">.</text><text transform="translate(1352.90,625.56) translate(-37.05,0) scale(1,1.0405)" font-size="33.30" stroke-width="0.25">0</text><text transform="translate(1352.90,625.56) translate(-18.53,0) scale(1,1.0405)" font-size="33.30" stroke-width="0.25">2</text>
<text transform="translate(1352.90,520.42) translate(-64.81,0) scale(1,1.0405)" font-size="33.30" stroke-width="0.25">0</text><text transform="translate(1352.90,520.42) translate(-46.30,0) scale(1,1.0000)" font-size="33.30" stroke-width="0.25">.</text><text transform="translate(1352.90,520.42) translate(-37.05,0) scale(1,1.0405)" font-size="33.30" stroke-width="0.25">0</text><text transform="translate(1352.90,520.42) translate(-18.53,0) scale(1,1.0405)" font-size="33.30" stroke-width="0.25">4</text>
<text transform="translate(1352.90,415.28) translate(-64.81,0) scale(1,1.0405)" font-size="33.30" stroke-width="0.25">0</text><text transform="translate(1352.90,415.28) translate(-46.30,0) scale(1,1.0000)" font-size="33.30" stroke-width="0.25">.</text><text transform="translate(1352.90,415.28) translate(-37.05,0) scale(1,1.0405)" font-size="33.30" stroke-width="0.25">0</text><text transform="translate(1352.90,415.28) translate(-18.53,0) scale(1,1.0405)" font-size="33.30" stroke-width="0.25">6</text>
<text transform="translate(1352.90,310.14) translate(-64.81,0) scale(1,1.0405)" font-size="33.30" stroke-width="0.25">0</text><text transform="translate(1352.90,310.14) translate(-46.30,0) scale(1,1.0000)" font-size="33.30" stroke-width="0.25">.</text><text transform="translate(1352.90,310.14) translate(-37.05,0) scale(1,1.0405)" font-size="33.30" stroke-width="0.25">0</text><text transform="translate(1352.90,310.14) translate(-18.53,0) scale(1,1.0405)" font-size="33.30" stroke-width="0.25">8</text>
<text transform="translate(1352.90,205.00) translate(-64.81,0) scale(1,1.0405)" font-size="33.30" stroke-width="0.25">0</text><text transform="translate(1352.90,205.00) translate(-46.30,0) scale(1,1.0000)" font-size="33.30" stroke-width="0.25">.</text><path transform="translate(1352.90,205.00) translate(-37.05,0) scale(0.01626,-0.01626)" d="M763 0L583 0L583 1147Q518 1085 412.5 1023Q307 961 221 929L221 1103Q376 1176 488 1276Q600 1376 650 1466L763 1466Z" fill="#262626" stroke="#262626" stroke-width="15.4"/><text transform="translate(1352.90,205.00) translate(-18.53,0) scale(1,1.0405)" font-size="33.30" stroke-width="0.25">0</text>
<text transform="translate(1786.70,868.30) translate(-154.34,0) scale(1,0.9815)" font-size="36.30" stroke-width="0.00">v</text><text transform="translate(1786.70,868.30) translate(-136.20,0) scale(1,0.9815)" font-size="36.30" stroke-width="0.00">a</text><text transform="translate(1786.70,868.30) translate(-116.02,0) scale(1,0.9880)" font-size="36.30" stroke-width="0.00">l</text><text transform="translate(1786.70,868.30) translate(-107.95,0) scale(1,0.9880)" font-size="36.30" stroke-width="0.00">i</text><text transform="translate(1786.70,868.30) translate(-99.89,0) scale(1,0.9880)" font-size="36.30" stroke-width="0.00">d</text><text transform="translate(1786.70,868.30) translate(-79.70,0) scale(1,0.9815)" font-size="36.30" stroke-width="0.00">a</text><text transform="translate(1786.70,868.30) translate(-59.52,0) scale(1,1.0000)" font-size="36.30" stroke-width="0.00">t</text><text transform="translate(1786.70,868.30) translate(-49.44,0) scale(1,0.9880)" font-size="36.30" stroke-width="0.00">i</text><text transform="translate(1786.70,868.30) translate(-41.36,0) scale(1,0.9815)" font-size="36.30" stroke-width="0.00">o</text><text transform="translate(1786.70,868.30) translate(-21.19,0) scale(1,0.9815)" font-size="36.30" stroke-width="0.00">n</text><text transform="translate(1786.70,868.30) translate(9.09,0) scale(1,0.9815)" font-size="36.30" stroke-width="0.00">a</text><text transform="translate(1786.70,868.30) translate(29.28,0) scale(1,0.9815)" font-size="36.30" stroke-width="0.00">c</text><text transform="translate(1786.70,868.30) translate(47.42,0) scale(1,0.9815)" font-size="36.30" stroke-width="0.00">c</text><text transform="translate(1786.70,868.30) translate(65.58,0) scale(1,0.9815)" font-size="36.30" stroke-width="0.00">u</text><text transform="translate(1786.70,868.30) translate(85.77,0) scale(1,0.9815)" font-size="36.30" stroke-width="0.00">r</text><text transform="translate(1786.70,868.30) translate(97.84,0) scale(1,0.9815)" font-size="36.30" stroke-width="0.00">a</text><text transform="translate(1786.70,868.30) translate(118.03,0) scale(1,0.9815)" font-size="36.30" stroke-width="0.00">c</text><text transform="translate(1786.70,868.30) translate(136.19,0) scale(1,0.9815)" font-size="36.30" stroke-width="0.00">y</text>
<text transform="translate(1268.60,442.60) rotate(-90) translate(-37.32,0) scale(1,1.0405)" font-size="36.30" stroke-width="0.50">D</text><text transform="translate(1268.60,442.60) rotate(-90) translate(-11.12,0) scale(1,1.0405)" font-size="36.30" stroke-width="0.50">S</text><text transform="translate(1268.60,442.60) rotate(-90) translate(13.10,0) scale(1,1.0405)" font-size="36.30" stroke-width="0.50">P</text>
<rect x="2243.70" y="116.70" width="28.70" height="652.10" fill="url(#cbgb)"/>
<rect x="2243.70" y="753.10" width="28.70" height="2.6" fill="#eed1cc"/>
<rect x="2243.70" y="736.05" width="28.70" height="2.6" fill="#ebcbc8"/>
<rect x="2243.70" y="719.00" width="28.70" height="2.6" fill="#e9c6c3"/>
<rect x="2243.70" y="701.95" width="28.70" height="2.6" fill="#e7c1c0"/>
<rect x="2243.70" y="684.90" width="28.70" height="2.6" fill="#e5bbbc"/>
<rect x="2243.70" y="667.85" width="28.70" height="2.6" fill="#e2b5b9"/>
<rect x="2243.70" y="650.80" width="28.70" height="2.6" fill="#e0b0b5"/>
<rect x="2243.70" y="633.75" width="28.70" height="2.6" fill="#ddabb3"/>
<rect x="2243.70" y="616.70" width="28.70" height="2.6" fill="#daa5b0"/>
<rect x="2243.70" y="599.65" width="28.70" height="2.6" fill="#d7a0ad"/>
<rect x="2243.70" y="582.60" width="28.70" height="2.6" fill="#d49bab"/>
<rect x="2243.70" y="565.55" width="28.70" height="2.6" fill="#d096a8"/>
<rect x="2243.70" y="548.50" width="28.70" height="2.6" fill="#cc91a6"/>
<rect x="2243.70" y="531.45" width="28.70" height="2.6" fill="#c88ba3"/>
<rect x="2243.70" y="514.40" width="28.70" height="2.6" fill="#c587a2"/>
<rect x="2243.70" y="497.35" width="28.70" height="2.6" fill="#c0829f"/>
<rect x="2243.70" y="480.30" width="28.70" height="2.6" fill="#bb7d9d"/>
<rect x="2243.70" y="463.25" width="28.70" height="2.6" fill="#b6789b"/>
<rect x="2243.70" y="446.20" width="28.70" height="2.6" fill="#b27599"/>
<rect x="2243.70" y="429.15" width="28.70" height="2.6" fill="#ad7096"/>
<rect x="2243.70" y="412.10" width="28.70" height="2.6" fill="#a76c94"/>
<rect x="2243.70" y="395.05" width="28.70" height="2.6" fill="#a16791"/>
<rect x="2243.70" y="378.00" width="28.70" height="2.6" fill="#9c648f"/>
<rect x="2243.70" y="360.95" width="28.70" height="2.6" fill="#96608c"/>
<rect x="2243.70" y="343.90" width="28.70" height="2.6" fill="#905c89"/>
<rect x="2243.70" y="326.85" width="28.70" height="2.6" fill="#8b5986"/>
<rect x="2243.70" y="309.80" width="28.70" height="2.6" fill="#845583"/>
<rect x="2243.70" y="292.75" width="28.70" height="2.6" fill="#7d517f"/>
<rect x="2243.70" y="275.70" width="28.70" height="2.6" fill="#774e7b"/>
<rect x="2243.70" y="258.65" width="28.70" height="2.6" fill="#714b78"/>
<rect x="2243.70" y="241.60" width="28.70" height="2.6" fill="#6b4773"/>
<rect x="2243.70" y="224.55" width="28.70" height="2.6" fill="#64446e"/>
<rect x="2243.70" y="207.50" width="28.70" height="2.6" fill="#5e416a"/>
<rect x="2243.70" y="190.45" width="28.70" height="2.6" fill="#583e65"/>
<rect x="2243.70" y="173.40" width="28.70" height="2.6" fill="#513a60"/>
<rect x="2243.70" y="139.30" width="28.70" height="2.6" fill="#453455"/>
<rect x="2243.70" y="122.25" width="28.70" height="2.6" fill="#3f314f"/>
<line x1="2276.40" y1="771.00" x2="2292.70" y2="771.00" stroke="#262626" stroke-width="3.5"/>
<text transform="translate(2302.40,783.30) translate(0.00,0) scale(1,1.0405)" font-size="33.30" stroke-width="0.25">0</text>
<line x1="2276.40" y1="637.00" x2="2292.70" y2="637.00" stroke="#262626" stroke-width="3.5"/>
<path transform="translate(2302.40,649.30) translate(0.00,0) scale(0.01626,-0.01626)" d="M763 0L583 0L583 1147Q518 1085 412.5 1023Q307 961 221 929L221 1103Q376 1176 488 1276Q600 1376 650 1466L763 1466Z" fill="#262626" stroke="#262626" stroke-width="15.4"/><text transform="translate(2302.40,649.30) translate(18.52,0) scale(1,1.0405)" font-size="33.30" stroke-width="0.25">0</text>
<line x1="2276.40" y1="503.00" x2="2292.70" y2="503.00" stroke="#262626" stroke-width="3.5"/>
<text transform="translate(2302.40,515.30) translate(0.00,0) scale(1,1.0405)" font-size="33.30" stroke-width="0.25">2</text><text transform="translate(2302.40,515.30) translate(18.52,0) scale(1,1.0405)" font-size="33.30" stroke-width="0.25">0</text>
<line x1="2276.40" y1="369.00" x2="2292.70" y2="369.00" stroke="#262626" stroke-width="3.5"/>
<text transform="translate(2302.40,381.30) translate(0.00,0) scale(1,1.0405)" font-size="33.30" stroke-width="0.25">3</text><text transform="translate(2302.40,381.30) translate(18.52,0) scale(1,1.0405)" font-size="33.30" stroke-width="0.25">0</text>
<line x1="2276.40" y1="235.00" x2="2292.70" y2="235.00" stroke="#262626" stroke-width="3.5"/>
<text transform="translate(2302.40,247.30) translate(0.00,0) scale(1,1.0405)" font-size="33.30" stroke-width="0.25">4</text><text transform="translate(2302.40,247.30) translate(18.52,0) scale(1,1.0405)" font-size="33.30" stroke-width="0.25">0</text>
<text transform="translate(2377.90,442.60) rotate(-90) translate(-64.57,0) scale(1,0.9880)" font-size="36.30" stroke-width="0.50">i</text><text transform="translate(2377.90,442.60) rotate(-90) translate(-56.51,0) scale(1,1.0000)" font-size="36.30" stroke-width="0.50">t</text><text transform="translate(2377.90,442.60) rotate(-90) translate(-46.43,0) scale(1,0.9815)" font-size="36.30" stroke-width="0.50">e</text><text transform="translate(2377.90,442.60) rotate(-90) translate(-26.24,0) scale(1,0.9815)" font-size="36.30" stroke-width="0.50">r</text><text transform="translate(2377.90,442.60) rotate(-90) translate(-14.15,0) scale(1,0.9815)" font-size="36.30" stroke-width="0.50">a</text><text transform="translate(2377.90,442.60) rotate(-90) translate(6.02,0) scale(1,1.0000)" font-size="36.30" stroke-width="0.50">t</text><text transform="translate(2377.90,442.60) rotate(-90) translate(16.12,0) scale(1,0.9880)" font-size="36.30" stroke-width="0.50">i</text><text transform="translate(2377.90,442.60) rotate(-90) translate(24.18,0) scale(1,0.9815)" font-size="36.30" stroke-width="0.50">o</text><text transform="translate(2377.90,442.60) rotate(-90) translate(44.37,0) scale(1,0.9815)" font-size="36.30" stroke-width="0.50">n</text>
</svg></body></html>
